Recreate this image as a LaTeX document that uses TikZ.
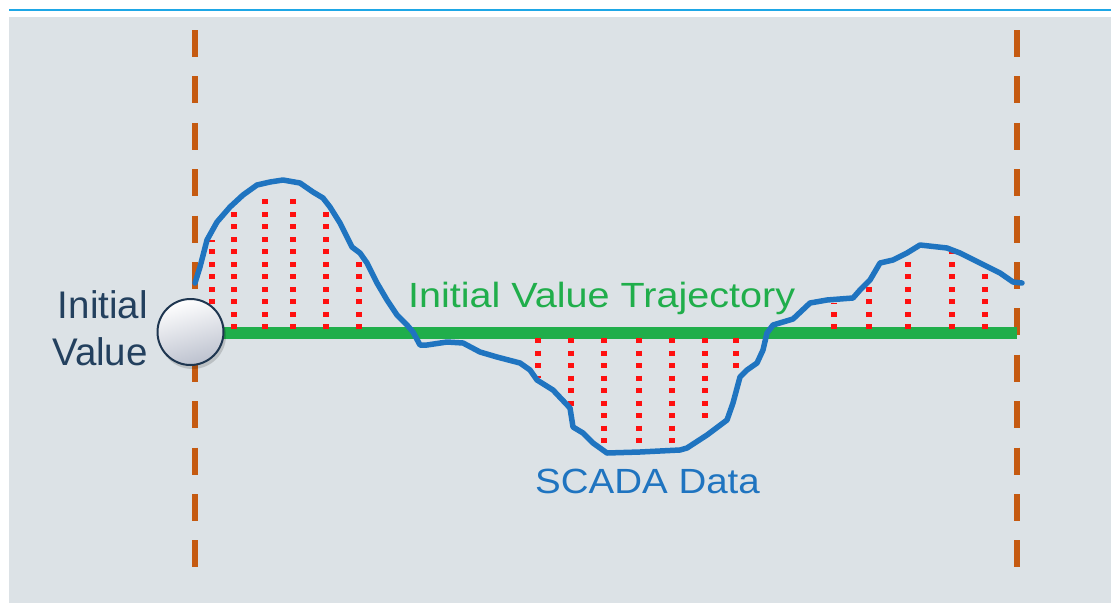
\documentclass[tikz,border=0pt]{standalone}
\usepackage{fontspec}
\setmainfont{Liberation Sans}
\definecolor{panel}{HTML}{DCE2E6}
\definecolor{topline}{HTML}{1EA7E6}
\definecolor{dashorange}{HTML}{C55A11}
\definecolor{trajgreen}{HTML}{20AE4B}
\definecolor{scadablue}{HTML}{1F74C0}
\definecolor{navy}{HTML}{23405E}
\definecolor{dotred}{HTML}{FF1010}
\definecolor{ballbot}{HTML}{BCC1CE}
\begin{document}
\begin{tikzpicture}[x=1pt,y=-1pt,
  bound/.style={draw=dashorange,line width=6pt,dash pattern=on 27pt off 19.4pt},
  devup/.style={draw=dotred,line width=5.5pt,dash pattern=on 5pt off 7.5pt},
  traj/.style={draw=trajgreen,line width=12pt},
  scada/.style={draw=scadablue,line width=5.5pt,line join=round,line cap=round},
  lbl/.style={inner sep=0pt,font=\fontsize{35}{40}\selectfont}]
\useasboundingbox (0,0) rectangle (1111,603);
\fill[white] (0,0) rectangle (1111,603);
\draw[draw=topline,line width=2pt] (9,9.5) -- (1111,9.5);
\fill[panel] (9,17) rectangle (1111,603);
% time boundaries
\coordinate (lt) at (195,30); \coordinate (lb) at (195,568);
\coordinate (rt) at (1017,30); \coordinate (rb) at (1017,568);
\draw[bound] (lt) -- (lb);
\draw[bound] (rt) -- (rb);
% initial value trajectory
\coordinate (gs) at (215,333); \coordinate (ge) at (1017,333);
\draw[traj] (gs) -- (ge);
% deviations above
\foreach \x/\t in {212/240,234/207,265/192,293/192,326/207,359/257,834/303,869/283,908/253,952/250,985/270}
  \draw[devup] (\x,329) -- (\x,\t);
% deviations below
\foreach \x/\b in {538/378,571/407,604/447,639/445,672/445,705/420,736/368}
  \draw[devup] (\x,338) -- (\x,\b);
% SCADA data
\draw[scada] plot coordinates {(195,283) (200,267) (207,240) (217,222) (230,207) (243,195) (257,185) (270,182) (283,180) (300,183) (313,192) (323,198) (330,207) (340,223) (347,237) (352,247) (360,253) (367,263) (377,283) (387,300) (397,315) (407,325) (413,332) (420,345) (427,345) (447,342) (463,343) (480,352) (497,357) (520,363) (530,370) (537,380) (553,390) (570,408) (573,427) (583,433) (593,443) (607,453) (640,452) (680,450) (687,448) (707,435) (727,420) (733,403) (740,377) (747,370) (757,363) (763,350) (767,333) (773,325) (793,319) (810,303) (827,300) (853,298) (860,290) (870,280) (880,263) (893,260) (907,253) (920,245) (947,248) (960,253) (980,263) (1000,273) (1013,282) (1022,283)};
% initial value ball
\fill[black,opacity=0.15] (192.5,335.5) circle (33.5);
\node[circle,minimum size=66pt,inner sep=0pt,draw=navy!85!black,line width=2pt,
  top color=white,bottom color=ballbot,shading angle=15] (ball) at (190.5,332) {};
% labels
\node[lbl,anchor=base east,text=navy,font=\fontsize{38.5}{44}\selectfont] (iv1) at (148,318) {Initial};
\node[lbl,anchor=base east,text=navy,font=\fontsize{38.5}{44}\selectfont] (iv2) at (148,365) {Value};
\node[lbl,anchor=base west,text=trajgreen] (ivt) at (408,307) {\scalebox{1.13}[1]{Initial Value Trajectory}};
\node[lbl,anchor=base west,text=scadablue] (sd) at (535,493) {\scalebox{1.10}[1]{SCADA Data}};
\end{tikzpicture}
\end{document}
